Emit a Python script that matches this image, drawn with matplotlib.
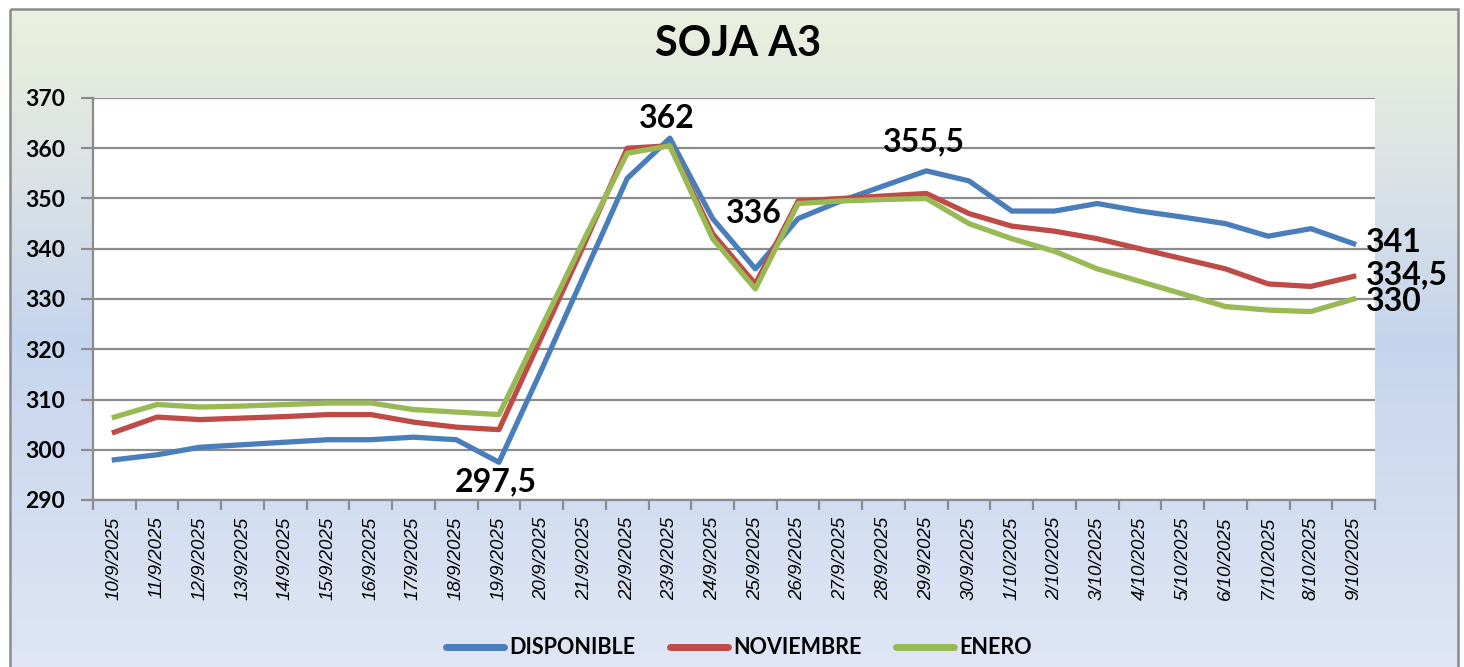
import numpy as np
import matplotlib.pyplot as plt
from matplotlib.colors import LinearSegmentedColormap
from matplotlib.patches import Rectangle

plt.rcParams['font.family'] = ['Lato', 'DejaVu Sans']

fechas = ['10/9/2025', '11/9/2025', '12/9/2025', '13/9/2025', '14/9/2025',
          '15/9/2025', '16/9/2025', '17/9/2025', '18/9/2025', '19/9/2025',
          '20/9/2025', '21/9/2025', '22/9/2025', '23/9/2025', '24/9/2025',
          '25/9/2025', '26/9/2025', '27/9/2025', '28/9/2025', '29/9/2025',
          '30/9/2025', '1/10/2025', '2/10/2025', '3/10/2025', '4/10/2025',
          '5/10/2025', '6/10/2025', '7/10/2025', '8/10/2025', '9/10/2025']

disponible = [298, 299, 300.5, 301, 301.5, 302, 302, 302.5, 302, 297.5,
              316, 335, 354, 362, 346, 336, 346, 349.5, 352.5, 355.5,
              353.5, 347.5, 347.5, 349, 347.5, 346.3, 345, 342.5, 344, 341]
noviembre = [303.5, 306.5, 306, 306.3, 306.6, 307, 307, 305.5, 304.5, 304,
             322.5, 341, 360, 360.5, 343, 333, 349.5, 350, 350.5, 351,
             347, 344.5, 343.5, 342, 340, 338, 336, 333, 332.5, 334.5]
enero = [306.5, 309, 308.5, 308.7, 309, 309.3, 309.3, 308, 307.5, 307,
         324.5, 342, 359, 360.5, 342, 332, 349, 349.5, 349.8, 350,
         345, 342, 339.5, 336, 333.5, 331, 328.5, 327.8, 327.5, 330]

# etiquetas: (serie, indice, texto, desplazamiento en pt, alineacion)
etiquetas = [
    ('d', 13, '362', (-2, 14), 'center'),
    ('d', 9, '297,5', (-2, -14), 'center'),
    ('d', 15, '336', (-1.5, 40), 'center'),
    ('d', 19, '355,5', (-1.5, 21), 'center'),
    ('d', 29, '341', (9, 1), 'left'),
    ('n', 29, '334,5', (9, 1), 'left'),
    ('e', 29, '330', (9, -1.5), 'left'),
]

W, H = 1464, 667
fig = plt.figure(figsize=(W / 100, H / 100), dpi=100)
fig.patch.set_facecolor('white')

# fondo degradado del grafico
bg = fig.add_axes([0, 0, 1, 1], zorder=0)
bg.axis('off')
cmap = LinearSegmentedColormap.from_list('fondo', [
    (0.0, '#eaf1dd'), (0.22, '#dde4e4'), (0.5, '#c6d5ee'), (1.0, '#e0e6f5')])
grad = np.linspace(0, 1, 256).reshape(-1, 1)
bg.imshow(grad, cmap=cmap, aspect='auto', extent=(10, 1458, H + 5, 9))
bg.add_patch(Rectangle((10, 9), 1448, H + 20, fill=False, edgecolor='#8c8c8c', lw=1.8))
bg.set_xlim(0, W)
bg.set_ylim(H, 0)

fig.text(738 / W, 1 - 44 / H, 'SOJA A3', ha='center', va='center',
         fontsize=30, fontweight='bold')

ax = fig.add_axes([93 / W, (H - 500) / H, (1375 - 93) / W, (500 - 98) / H], zorder=1)
ax.set_facecolor('white')
x = np.arange(len(fechas))

series = {'d': disponible, 'n': noviembre, 'e': enero}
ax.plot(x, disponible, color='#4a7ebb', lw=3.8, label='DISPONIBLE', solid_joinstyle='round')
ax.plot(x, noviembre, color='#be4b48', lw=3.8, label='NOVIEMBRE', solid_joinstyle='round')
ax.plot(x, enero, color='#98b954', lw=3.8, label='ENERO', solid_joinstyle='round')

for s, i, txt, off, ha in etiquetas:
    ax.annotate(txt, xy=(i, series[s][i]), xytext=off, textcoords='offset points',
                ha=ha, va='center', fontsize=23, fontweight='bold',
                annotation_clip=False, zorder=5)

ax.set_xlim(-0.5, len(fechas) - 0.5)
ax.set_ylim(290, 370)
ax.set_yticks(np.arange(290, 371, 10))
ax.yaxis.grid(True, color='#8c8c8c', lw=1.6)
ax.set_axisbelow(True)
ax.set_xticks(x)
ax.set_xticklabels(fechas, rotation=90, fontsize=13.5, style='italic',
                   family=['Liberation Sans', 'DejaVu Sans'])
ax.set_xticks(np.arange(-0.5, len(fechas)), minor=True)
ax.tick_params(axis='x', which='major', length=0, pad=12)
ax.tick_params(axis='x', which='minor', length=7, width=1.6, color='#8c8c8c')
ax.tick_params(axis='y', length=9, width=1.6, color='#8c8c8c', pad=11)
for lab in ax.get_yticklabels():
    lab.set_fontsize(16.5)
    lab.set_fontweight('bold')
for sp in ['top', 'right']:
    ax.spines[sp].set_visible(False)
for sp in ['left', 'bottom']:
    ax.spines[sp].set_color('#8c8c8c')
    ax.spines[sp].set_linewidth(1.6)

leg = fig.legend(loc='center', bbox_to_anchor=(739 / W, 1 - 648 / H), ncol=3,
                 frameon=False, handlelength=2.7, handletextpad=0.25,
                 columnspacing=1.6, prop={'size': 15.5, 'weight': 'bold'})
for line in leg.get_lines():
    line.set_linewidth(5)
    line.set_solid_capstyle('round')

fig.savefig('out.png', dpi=100)
